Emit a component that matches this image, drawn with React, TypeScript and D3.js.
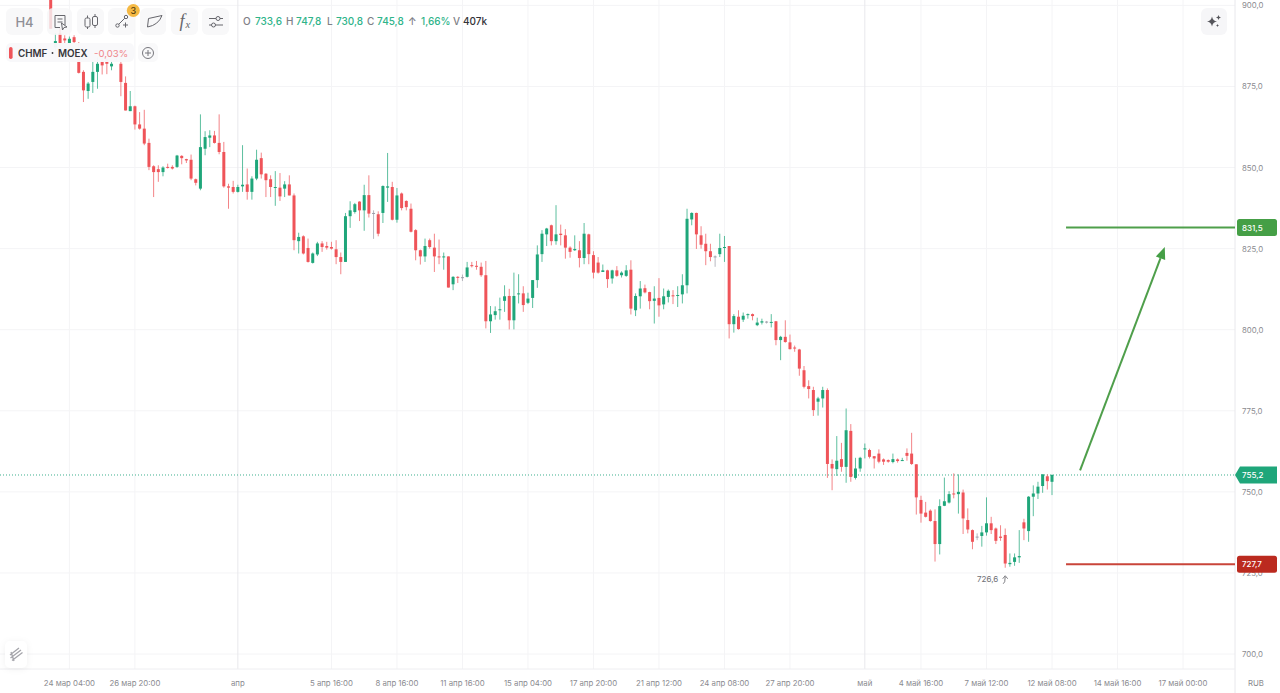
import { useEffect, useRef } from "react";
import * as d3 from "d3";

const opens = [
  905, 887, 891.3, 889.8, 888.4, 890.2, 885, 879.5, 873.6, 876.4,
  879.5, 883, 883.5, 881.2, 884, 882, 876.1, 867.4, 868.9, 863.3,
  862, 857.6, 850.4, 849.5, 848.6, 850.2, 850.2, 850.2, 853.6, 852.6,
  852.4, 846.4, 843.5, 855.8, 859.2, 859.9, 857.6, 854.8, 844.2, 844,
  842.5, 844.2, 844.8, 842.5, 846.6, 852.9, 848.1, 846.4, 843.8, 843.8,
  843.5, 844.8, 841.4, 827.3, 828.8, 825.2, 820.6, 823.2, 826.6, 825.8,
  825.5, 824.8, 822.4, 820.9, 835, 836.3, 839.5, 836.8, 841.5, 836,
  835.6, 836, 843.8, 844, 833.9, 842, 839.7, 837.3, 830.7, 824.5,
  822.6, 827.6, 825.3, 822.6, 822.4, 822.6, 814, 816.3, 816.2, 816.3,
  819.9, 819.7, 819.4, 816.8, 802.6, 804.5, 806, 808.9, 810.4, 802.9,
  811, 811.2, 808.3, 809.8, 815.3, 823.3, 829.4, 832.2, 827.3, 829.6,
  829.1, 825.3, 824.5, 824.5, 822.1, 829.4, 823, 820.7, 817.8, 818.3,
  815.8, 818.3, 816.8, 816.6, 818.5, 806, 810.3, 812.8, 811.6, 808.9,
  809.8, 807.8, 810.1, 810.6, 810.4, 810.9, 813.7, 834, 836, 829.1,
  826.5, 824.2, 822.6, 823.3, 825.2, 825.8, 801.7, 804, 803.1, 804.5,
  804.8, 801.4, 802.2, 802.5, 802.2, 802.6, 796.8, 797.8, 796.1, 794.5,
  793.9, 787.5, 782.6, 781.4, 777.8, 778.8, 781.4, 758.6, 757, 760.1,
  757.7, 768.8, 754.3, 757.2, 763.1, 762.9, 761, 761.8, 760, 759.8,
  759.2, 760, 759.5, 762, 761.8, 758.5, 747.5, 743.6, 744.2, 741,
  733.9, 745.7, 746.7, 749.5, 749.3, 749.8, 741.3, 738.2, 736.2, 736.4,
  737.5, 740.3, 738.7, 736.2, 736.7, 727.7, 728.4, 729.8, 740.6, 737.9,
  748.5, 749.5, 751.8, 754.8, 753.1,
];

const highs = [
  905, 891.3, 893, 890.8, 890.4, 890.8, 888.7, 880, 876.4, 883,
  884, 884, 885, 883, 886, 884, 878.1, 873.6, 869.1, 867.1,
  867.8, 858.9, 850.7, 850.7, 850.4, 851.2, 850.7, 853.9, 853.8, 852.7,
  854, 846.6, 866.4, 861.2, 861.5, 861.3, 866.4, 857.9, 845, 845.9,
  844.7, 856.9, 849.7, 847.3, 855.5, 854.6, 848.3, 847.6, 848.9, 848.3,
  845.8, 847.6, 842, 829.9, 829.1, 828.1, 823.8, 827.1, 827.3, 827.1,
  827.1, 827.6, 823.8, 836, 839.6, 839.1, 839.6, 844.7, 847.6, 836.8,
  836.5, 844.5, 854.5, 845.6, 843.7, 842.3, 839.9, 838.9, 831, 824.7,
  828.1, 828.1, 829.6, 827.8, 823.8, 822.6, 816.5, 816.5, 817, 820.9,
  820.9, 821.2, 820.7, 821.2, 807.3, 807.2, 809.9, 813.7, 812.6, 817.6,
  817.1, 813.4, 811.4, 815.3, 826, 830.7, 831.4, 832.4, 838.4, 832.4,
  831, 825.7, 829.1, 827.3, 832.9, 829.6, 824.2, 822.4, 820.1, 818.5,
  818.5, 819.6, 818, 819.9, 821.4, 811.2, 815, 813.9, 811.7, 813.4,
  815.9, 812.7, 812.4, 812.2, 813.4, 817.1, 837.3, 836.2, 836.1, 831.9,
  829.6, 826.5, 822.9, 829.6, 828.9, 825.8, 804.8, 806, 805.3, 805,
  805, 803.7, 803.4, 802.7, 804.8, 802.7, 798.1, 802.9, 798.5, 795.1,
  794.1, 788.8, 784.4, 782.4, 779.3, 782.4, 781.9, 760, 767.2, 765.1,
  775.7, 770.9, 760.5, 760.8, 764.9, 763.3, 761, 763.1, 760.3, 760,
  761.8, 760.3, 760.5, 763.4, 768.2, 758.5, 748.8, 746.9, 744.6, 744.6,
  747.7, 754.4, 750.2, 755.7, 755.4, 750.7, 744.9, 738.4, 737.2, 739.5,
  748.3, 742.3, 739, 739.7, 738.7, 731, 731, 738.2, 741.7, 748.7,
  752, 753.1, 755.4, 755.4, 755.4,
];

const lows = [
  892.8, 886, 887.5, 888.4, 888, 888.4, 879, 870.2, 871.2, 873,
  874.3, 878.7, 878.8, 880, 883, 872, 867.6, 867.4, 861.7, 861.7,
  856.9, 849.2, 840.9, 845.6, 847.3, 849.7, 849.4, 849.9, 851, 851.4,
  846.1, 844.5, 843, 853.8, 856.3, 857.4, 854.1, 843.8, 837.3, 842,
  842.3, 842.5, 840.1, 840.1, 846.1, 846.6, 840.9, 840.9, 838.2, 839.7,
  840.9, 841.4, 824.5, 823.5, 823.2, 820.7, 820.4, 822.7, 824, 824.7,
  824.7, 820.2, 817.1, 820.9, 831.4, 835.8, 833.5, 830.5, 834.6, 828,
  828.8, 832.9, 839.4, 833.7, 833, 836.8, 836.8, 830, 821.4, 820.1,
  820.9, 825, 817.8, 820.2, 818.5, 813, 812.2, 814.4, 815, 816.1,
  819.2, 818.5, 816.3, 800.4, 799, 803.1, 803.1, 805.5, 800.1, 800.1,
  808.1, 805.5, 807.9, 806.7, 812.9, 820.9, 825.8, 826, 826.2, 826,
  821.9, 822.2, 824.3, 819.2, 820.2, 820.2, 815.8, 817.3, 817.8, 812.9,
  814.2, 816.3, 816.1, 816.3, 804.7, 804.2, 806.5, 811.2, 806.3, 801.9,
  804, 806.3, 808.4, 807.9, 807, 808.1, 811.2, 832.2, 824.9, 825,
  819.9, 821.1, 819.4, 822.4, 820.9, 797.3, 799.1, 800, 802.4, 803.4,
  802.9, 801.1, 801.6, 801.9, 800.7, 795.2, 790.6, 796, 793.9, 793.2,
  785.8, 781.9, 778.8, 773.4, 773.5, 776, 754.3, 750.5, 754.9, 756.2,
  752.8, 753.1, 753.8, 756.2, 760.3, 760.3, 757.2, 758.8, 758.3, 759,
  758.8, 759, 759.5, 759.6, 758.3, 743, 740.5, 742.1, 740.8, 728.5,
  730.7, 745.6, 746.4, 748, 743.3, 737, 737.2, 732.3, 735.1, 733.1,
  736.5, 737, 733.9, 734.9, 726.6, 726.9, 727.2, 728.1, 735.1, 734.6,
  742.5, 747.8, 749.7, 750.7, 749,
];

const closes = [
  892.8, 889, 888.4, 889.2, 889.7, 888.7, 879.2, 873.8, 875.9, 879.5,
  882, 881.5, 882, 882, 885, 876.4, 867.6, 868.9, 863.3, 862,
  857.4, 850.2, 848.6, 848.6, 850, 849.9, 849.7, 853.7, 852.9, 852.2,
  846.6, 845.3, 856.3, 859.4, 859.9, 857.6, 854.8, 844.2, 843.8, 842.5,
  844, 844.7, 842.5, 846.6, 852.4, 847.9, 846.1, 844, 844, 841.1,
  844.8, 841.4, 827.6, 828.6, 823.5, 820.9, 823.5, 826.6, 825.5, 825.3,
  825, 822.4, 820.9, 835, 836.8, 838.7, 836.8, 841.5, 835.8, 836,
  829.6, 844.3, 844.2, 833.9, 841.4, 837.5, 837.8, 830.2, 824.5, 822.6,
  825.8, 825.5, 822.6, 822.4, 822.6, 813, 816.3, 816, 816.2, 819.2,
  819.6, 819.4, 816.8, 802.6, 804.7, 805.7, 806.3, 810.3, 802.9, 810.4,
  811.2, 807.6, 809.6, 815.3, 823.2, 829.6, 831.2, 827.3, 829.4, 829.2,
  825.3, 824, 824.9, 822.1, 829.6, 823.3, 817.6, 817.6, 818.3, 815.6,
  818.3, 816.6, 817.6, 818.3, 806.5, 810.4, 812.7, 811.5, 808.8, 809.6,
  807.5, 810.3, 812, 810.4, 810.7, 813.7, 834.2, 836, 829.4, 826.2,
  824.2, 822.4, 822.6, 825.2, 825.5, 801.7, 804.2, 800.2, 804.3, 804.8,
  804.2, 802.2, 802.6, 802.5, 802.4, 796.8, 797.8, 796.2, 794, 794.2,
  788, 782.4, 781.7, 775.2, 778.8, 781.4, 758.6, 757.2, 759.6, 757.7,
  769, 754.6, 757.2, 760.5, 763.4, 760.8, 760.3, 759.3, 759.3, 759.3,
  760.1, 759.5, 759.8, 761.1, 758.6, 748.3, 743.3, 742.3, 741, 733.9,
  745.6, 747.1, 749.3, 749.3, 750, 741.8, 738.4, 734.6, 736.2, 737.5,
  740.3, 738.2, 734.9, 735.8, 727.9, 728.1, 729.8, 730.2, 738.7, 748.5,
  749.5, 751.6, 755.4, 753.3, 755.2,
];

const priceTicks = [900, 875, 850, 825, 800, 775, 750, 725, 700];
const timeTickIndex = [4, 18, 40, 60, 74, 88, 102, 116, 130, 144, 158, 174, 186, 200, 214, 228, 242];
const timeTickLabels = [
  "24 мар 04:00", "26 мар 20:00", "апр", "5 апр 16:00", "8 апр 16:00", "11 апр 16:00",
  "15 апр 04:00", "17 апр 20:00", "21 апр 12:00", "24 апр 08:00", "27 апр 20:00", "май",
  "4 май 16:00", "7 май 12:00", "12 май 08:00", "14 май 16:00", "17 май 00:00",
];
const monthTicks = [40, 174];

const lastPrice = 755.2;
const targetPrice = 831.5;
const stopPrice = 727.7;
const levelStartIndex = 217;
const arrowFrom = { i: 220, price: 756.6 };
const arrowTo = { i: 238.1, price: 825.5 };
const lowIndex = 204;
const lowPrice = 726.6;

const headerItems = [
  { text: "O", x: 243, color: "#808086" },
  { text: "733,6", x: 255, color: "#2fb48a" },
  { text: "H", x: 286, color: "#808086" },
  { text: "747,8", x: 296, color: "#2fb48a" },
  { text: "L", x: 327, color: "#808086" },
  { text: "730,8", x: 336, color: "#2fb48a" },
  { text: "C", x: 367, color: "#808086" },
  { text: "745,8", x: 377, color: "#2fb48a" },
  { text: "↑", x: 408, color: "#808086" },
  { text: "1,66%", x: 421, color: "#2fb48a" },
  { text: "V", x: 453, color: "#808086" },
  { text: "407k", x: 463, color: "#333338" },
];

const WIDTH = 1280;
const HEIGHT = 693;
const AXIS_X = 1235;
const AXIS_Y = 669;
const GREEN = "#1fa67a";
const RED = "#ef5459";
const GREY_TEXT = "#8b8b90";
const FONT = "Inter, 'Noto Sans', sans-serif";

const x = d3.scaleLinear().domain([0, 214]).range([50.7, 1052]);
const y = d3.scaleLinear().domain([700, 900]).range([654, 5.4]);
const priceLabel = (v: number) => v.toFixed(1).replace(".", ",");

const candleColor = (i: number) =>
  closes[i] > opens[i] ? GREEN : closes[i] < opens[i] ? RED : "#9c9ca8";

const buttons = [
  [6, 37],
  [47, 25],
  [77, 27],
  [108, 27],
  [140, 26],
  [171, 27],
  [202, 27],
];

const App = () => {
  const chartRef = useRef<SVGGElement>(null);

  useEffect(() => {
    if (!chartRef.current) return;
    const g = d3.select(chartRef.current);
    g.selectAll("*").remove();

    // grid
    g.append("g")
      .selectAll("line")
      .data(priceTicks)
      .join("line")
      .attr("x1", 0)
      .attr("x2", AXIS_X)
      .attr("y1", (d) => y(d))
      .attr("y2", (d) => y(d))
      .attr("stroke", "#f4f4f6");

    g.append("g")
      .selectAll("line")
      .data(timeTickIndex)
      .join("line")
      .attr("x1", (d) => x(d))
      .attr("x2", (d) => x(d))
      .attr("y1", 0)
      .attr("y2", AXIS_Y)
      .attr("stroke", (d) => (monthTicks.includes(d) ? "#e8e8ec" : "#f4f4f6"));

    // axis borders
    g.append("line")
      .attr("x1", AXIS_X)
      .attr("x2", AXIS_X)
      .attr("y1", 0)
      .attr("y2", HEIGHT)
      .attr("stroke", "#e8e8ec");
    g.append("line")
      .attr("x1", 0)
      .attr("x2", AXIS_X)
      .attr("y1", AXIS_Y)
      .attr("y2", AXIS_Y)
      .attr("stroke", "#eeeef1");

    // last price line
    g.append("line")
      .attr("x1", 0)
      .attr("x2", AXIS_X)
      .attr("y1", y(lastPrice))
      .attr("y2", y(lastPrice))
      .attr("stroke", "#3fb08f")
      .attr("stroke-width", 1)
      .attr("stroke-dasharray", "1 2");

    // candles
    const indexes = d3.range(opens.length);
    g.append("g")
      .selectAll("line")
      .data(indexes)
      .join("line")
      .attr("x1", (i) => x(i))
      .attr("x2", (i) => x(i))
      .attr("y1", (i) => y(highs[i]))
      .attr("y2", (i) => y(lows[i]))
      .attr("stroke", candleColor)
      .attr("stroke-opacity", 0.72)
      .attr("stroke-width", 1);

    g.append("g")
      .selectAll("rect")
      .data(indexes)
      .join("rect")
      .attr("x", (i) => x(i) - 1.5)
      .attr("width", 3)
      .attr("y", (i) => y(Math.max(opens[i], closes[i])))
      .attr("height", (i) => Math.max(1, Math.abs(y(opens[i]) - y(closes[i]))))
      .attr("fill", candleColor);

    // axis labels
    g.append("g")
      .selectAll("text")
      .data(priceTicks)
      .join("text")
      .attr("x", 1242)
      .attr("y", (d) => y(d) + 3)
      .attr("font-size", 7.8)
      .attr("fill", GREY_TEXT)
      .text((d) => priceLabel(d));

    g.append("g")
      .selectAll("text")
      .data(timeTickIndex)
      .join("text")
      .attr("x", (d) => x(d))
      .attr("y", 686)
      .attr("text-anchor", "middle")
      .attr("font-size", 7.8)
      .attr("fill", GREY_TEXT)
      .text((_, i) => timeTickLabels[i]);

    // trade levels and tags
    const levels = [
      { price: targetPrice, color: "#4f9f4b", tag: "#459f46" },
      { price: stopPrice, color: "#c9453a", tag: "#bb2a1f" },
    ];
    levels.forEach((l) => {
      g.append("line")
        .attr("x1", x(levelStartIndex))
        .attr("x2", AXIS_X)
        .attr("y1", y(l.price))
        .attr("y2", y(l.price))
        .attr("stroke", l.color)
        .attr("stroke-width", 2);
      g.append("rect")
        .attr("x", 1237)
        .attr("y", y(l.price) - 8.5)
        .attr("width", 40)
        .attr("height", 17)
        .attr("rx", 2.5)
        .attr("fill", l.tag);
      g.append("text")
        .attr("x", 1242)
        .attr("y", y(l.price) + 3)
        .attr("font-size", 8)
        .attr("font-weight", 500)
        .attr("fill", "#fff")
        .text(priceLabel(l.price));
    });

    const ly = y(lastPrice);
    const tagPath = d3.path();
    tagPath.moveTo(1235, ly);
    tagPath.lineTo(1240, ly - 8.5);
    tagPath.lineTo(1277, ly - 8.5);
    tagPath.lineTo(1277, ly + 8.5);
    tagPath.lineTo(1240, ly + 8.5);
    tagPath.closePath();
    g.append("path").attr("d", tagPath.toString()).attr("fill", GREEN);
    g.append("text")
      .attr("x", 1242)
      .attr("y", ly + 3)
      .attr("font-size", 8)
      .attr("font-weight", 500)
      .attr("fill", "#fff")
      .text(priceLabel(lastPrice));

    // arrow to target
    const x0 = x(arrowFrom.i);
    const y0 = y(arrowFrom.price);
    const x1 = x(arrowTo.i);
    const y1 = y(arrowTo.price);
    const angle = Math.atan2(y1 - y0, x1 - x0);
    const headLen = 12;
    const headHalf = 5;
    const bx = x1 - headLen * Math.cos(angle);
    const by = y1 - headLen * Math.sin(angle);
    g.append("line")
      .attr("x1", x0)
      .attr("y1", y0)
      .attr("x2", bx)
      .attr("y2", by)
      .attr("stroke", "#4f9f4b")
      .attr("stroke-width", 2);
    const head = d3.path();
    head.moveTo(x1, y1);
    head.lineTo(bx - headHalf * Math.sin(angle), by + headHalf * Math.cos(angle));
    head.lineTo(bx + headHalf * Math.sin(angle), by - headHalf * Math.cos(angle));
    head.closePath();
    g.append("path").attr("d", head.toString()).attr("fill", "#459f46");

    // low marker
    const lx = x(lowIndex);
    const lowY = y(lowPrice) + 14.5;
    g.append("text")
      .attr("x", lx - 7)
      .attr("y", lowY)
      .attr("text-anchor", "end")
      .attr("font-size", 8)
      .attr("fill", "#6f6f75")
      .text(priceLabel(lowPrice));
    g.append("path")
      .attr(
        "d",
        `M${lx - 2},${lowY + 1.5} Q${lx},${lowY + 1} ${lx},${lowY - 5.5} M${lx - 2.5},${lowY - 3.5} L${lx},${lowY - 6.5} L${lx + 2.5},${lowY - 3.5}`
      )
      .attr("fill", "none")
      .attr("stroke", "#6f6f75")
      .attr("stroke-width", 0.9);
  }, []);

  return (
    <svg
      width={WIDTH}
      height={HEIGHT}
      style={{ position: "absolute", top: 0, left: 0, background: "#fff", fontFamily: FONT }}
    >
      <g ref={chartRef} />

      {/* toolbar */}
      {buttons.map(([bx, bw]) => (
        <rect key={bx} x={bx} y={8} width={bw} height={27} rx={6} fill="#f6f6f8" fillOpacity={0.82} />
      ))}
      <text x={24.5} y={26.5} textAnchor="middle" fontSize={13} fontWeight={500} fill="#8f8f95">
        H4
      </text>

      <g fill="none" stroke="#66666c" strokeWidth={1}>
        <path d="M65,25 L65,15.5 L55,15.5 L55,27.5 L60,27.5 M57.5,19 L62.5,19 M57.5,22 L62.5,22" />
        <path d="M61.5,23 L67,27 L64,27.5 L62.5,30 Z" />
        <rect x={85} y={18} width={5} height={9} rx={1.5} />
        <path d="M87.5,15.5 L87.5,18 M87.5,27 L87.5,29" />
        <rect x={92.5} y={16.5} width={5} height={9} rx={1.5} />
        <path d="M95,14 L95,16.5 M95,25.5 L95,28" />
        <circle cx={117.5} cy={25.5} r={1.7} />
        <circle cx={126} cy={17} r={1.7} />
        <path d="M118.7,24.3 L124.8,18.2 M125.5,22.5 L125.5,27.5 M123,25 L128,25" />
        <path d="M147.5,27 L148.5,18.5 L162,15.5 Q158.5,25 147.5,27 Z" />
        <path d="M209,18.5 L223,18.5 M209,25 L223,25" />
        <circle cx={218} cy={18.5} r={2} fill="#f6f6f8" />
        <circle cx={213.5} cy={25} r={2} fill="#f6f6f8" />
      </g>
      <text x={179.5} y={27} fontFamily="'Liberation Serif', serif" fontStyle="italic" fontSize={18} fill="#66666c">
        f
      </text>
      <text x={185.5} y={28} fontFamily="'Liberation Serif', serif" fontStyle="italic" fontSize={10.5} fill="#66666c">
        x
      </text>
      <circle cx={133.3} cy={10.5} r={6.5} fill="#f5b944" />
      <text x={133.3} y={13.7} textAnchor="middle" fontSize={9} fontWeight={500} fill="#4a3a10">
        3
      </text>

      {/* OHLC header */}
      {headerItems.map((h) => (
        <text key={h.x} x={h.x} y={25} fontSize={10} fontWeight={500} fill={h.color}>
          {h.text}
        </text>
      ))}

      {/* ticker legend */}
      <rect x={6} y={43} width={128} height={19} rx={5} fill="#f8f8fa" fillOpacity={0.97} />
      <rect x={9} y={47} width={3.6} height={12} rx={1.8} fill={RED} />
      <text x={18} y={56.5} fontSize={9.8} fontWeight={600} fill="#36363b">
        CHMF
      </text>
      <circle cx={52.5} cy={53} r={0.9} fill="#36363b" />
      <text x={58} y={56.5} fontSize={9.8} fontWeight={600} fill="#36363b">
        MOEX
      </text>
      <text x={94} y={56.5} fontSize={9.6} fill="#f0868b">
        -0,03%
      </text>
      <rect x={138} y={43} width={20} height={19} rx={5} fill="#f8f8fa" fillOpacity={0.9} />
      <circle cx={148} cy={53} r={5.5} fill="none" stroke="#77777d" strokeWidth={1} />
      <path d="M148,50 L148,56 M145,53 L151,53" stroke="#77777d" strokeWidth={1} />

      {/* sparkle button */}
      <rect x={1201} y={8} width={26} height={27} rx={6} fill="#f6f6f8" />
      <path
        d="M1212,16.5 Q1212.8,20.8 1217,21.5 Q1212.8,22.2 1212,26.5 Q1211.2,22.2 1207,21.5 Q1211.2,20.8 1212,16.5 Z M1218.5,15 Q1218.8,17.2 1221,17.5 Q1218.8,17.8 1218.5,20 Q1218.2,17.8 1216,17.5 Q1218.2,17.2 1218.5,15 Z M1217.5,24 Q1217.7,25.3 1219,25.5 Q1217.7,25.7 1217.5,27 Q1217.3,25.7 1216,25.5 Q1217.3,25.3 1217.5,24 Z"
        fill="#55555b"
      />

      {/* drawing tools button */}
      <rect x={5} y={641} width={22} height={27} rx={5} fill="#fff" style={{ filter: "drop-shadow(0 1px 3px rgba(0,0,0,0.06))" }} />
      <path
        d="M10,655 L19,648 M10.5,658 L21,650 M12,660.5 L22.5,652.5 M11,652 L14,661"
        stroke="#a4a4aa"
        strokeWidth={1.3}
        fill="none"
      />

      <text x={1256} y={686} textAnchor="middle" fontSize={7.8} fill={GREY_TEXT}>
        RUB
      </text>
    </svg>
  );
};

export default App;
